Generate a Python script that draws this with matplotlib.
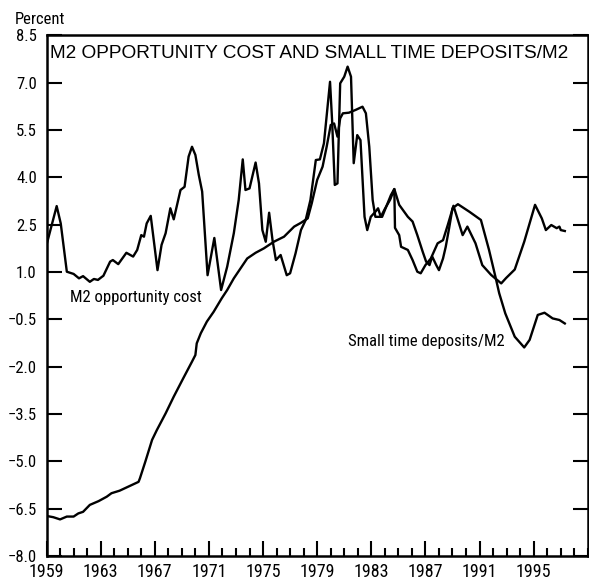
import matplotlib
matplotlib.use("Agg")
import matplotlib.pyplot as plt
from matplotlib import font_manager
from matplotlib.ticker import MultipleLocator, FixedLocator

# 細めのフォントがあればそれを使う
names = {f.name for f in font_manager.fontManager.ttflist}
FONT = "Roboto Condensed" if "Roboto Condensed" in names else "Liberation Sans"
TITLE_FONT = ["Liberation Sans", "DejaVu Sans"]
plt.rcParams["font.family"] = [FONT, "DejaVu Sans"]

# M2 opportunity cost
opp_years = [1959.0, 1959.75, 1960.05, 1960.5, 1961.0, 1961.4, 1961.7, 1962.2, 1962.5, 1962.8,
             1963.1, 1963.2, 1963.7, 1963.9, 1964.3, 1964.9, 1965.4, 1965.7, 1966.0, 1966.2,
             1966.4, 1966.7, 1967.2, 1967.5, 1967.8, 1968.15, 1968.4, 1968.9, 1969.2, 1969.5,
             1969.75, 1970.0, 1970.25, 1970.5, 1970.9, 1971.4, 1971.9, 1972.35, 1972.84, 1973.2,
             1973.5, 1973.7, 1974.0, 1974.45, 1974.7, 1974.95, 1975.2, 1975.45, 1975.7, 1975.95,
             1976.3, 1976.75, 1977.0, 1977.4, 1977.8, 1978.15, 1978.5, 1978.9, 1979.2, 1979.5,
             1979.95, 1980.1, 1980.3, 1980.5, 1980.7, 1981.0, 1981.25, 1981.5, 1981.7, 1981.96,
             1982.2, 1982.5, 1982.7, 1982.96, 1983.3, 1983.5, 1983.7, 1984.0, 1984.4, 1984.7,
             1984.75, 1985.06, 1985.2, 1985.7, 1986.05, 1986.4, 1986.65, 1987.0, 1987.4, 1987.9,
             1988.3, 1988.65, 1989.07, 1989.75, 1990.1, 1990.7, 1991.2, 1991.85, 1992.6, 1992.96,
             1993.6, 1994.3, 1995.1, 1995.6, 1995.9, 1996.3, 1996.7, 1996.9, 1997.0, 1997.3]
opp_values = [1.86, 3.09, 2.54, 1.01, 0.94, 0.80, 0.87, 0.69, 0.78, 0.75,
              0.85, 0.88, 1.33, 1.38, 1.25, 1.61, 1.49, 1.70, 2.17, 2.12,
              2.54, 2.78, 1.06, 1.86, 2.23, 3.02, 2.67, 3.60, 3.70, 4.66,
              4.97, 4.71, 4.08, 3.55, 0.90, 2.08, 0.43, 1.17, 2.23, 3.28,
              4.57, 3.60, 3.65, 4.47, 3.81, 2.33, 1.96, 2.88, 2.01, 1.38,
              1.54, 0.90, 0.96, 1.59, 2.33, 2.65, 3.28, 4.55, 4.57, 5.08,
              7.03, 5.82, 3.76, 3.81, 6.98, 7.19, 7.51, 7.19, 4.45, 5.34,
              5.18, 2.75, 2.33, 2.75, 2.91, 3.02, 2.75, 3.00, 3.30, 3.63,
              2.40, 2.17, 1.80, 1.70, 1.38, 1.01, 0.96, 1.22, 1.43, 1.91,
              2.01, 2.49, 3.10, 2.17, 2.44, 1.91, 1.22, 0.91, 0.64, 0.81,
              1.08, 1.96, 3.13, 2.70, 2.33, 2.49, 2.39, 2.44, 2.33, 2.30]

# Small time deposits/M2
std_years = [1959.0, 1959.5, 1960.0, 1960.5, 1961.0, 1961.35, 1961.7, 1962.2, 1962.85, 1963.45,
             1963.8, 1964.4, 1965.05, 1965.8, 1965.9, 1966.3, 1966.8, 1967.15, 1967.8, 1968.4,
             1969.1, 1969.75, 1970.0, 1970.1, 1970.4, 1970.85, 1971.35, 1971.95, 1972.35, 1972.84,
             1973.83, 1974.45, 1975.06, 1975.8, 1976.55, 1977.3, 1977.8, 1978.3, 1978.6, 1979.0,
             1979.4, 1979.7, 1980.0, 1980.25, 1980.5, 1980.7, 1980.9, 1981.35, 1981.85, 1982.35,
             1982.6, 1982.85, 1983.1, 1983.3, 1983.8, 1984.45, 1984.7, 1985.06, 1985.7, 1986.05,
             1986.4, 1986.8, 1987.05, 1987.3, 1987.5, 1987.8, 1988.0, 1988.3, 1988.5, 1988.75,
             1989.0, 1989.4, 1990.25, 1991.1, 1991.7, 1992.2, 1992.45, 1992.9, 1993.6, 1994.3,
             1994.7, 1995.3, 1995.8, 1996.4, 1996.9, 1997.3]
std_values = [-6.73, -6.77, -6.84, -6.75, -6.75, -6.65, -6.60, -6.38, -6.26, -6.12,
              -6.01, -5.93, -5.80, -5.65, -5.54, -5.01, -4.32, -4.01, -3.48, -2.95,
              -2.37, -1.84, -1.63, -1.26, -0.94, -0.57, -0.26, 0.17, 0.43, 0.80,
              1.43, 1.61, 1.75, 1.96, 2.12, 2.44, 2.56, 2.70, 3.18, 3.92,
              4.34, 4.97, 5.66, 5.71, 5.29, 5.87, 6.03, 6.05, 6.14, 6.24,
              6.03, 4.97, 3.28, 2.75, 2.75, 3.44, 3.63, 3.13, 2.75, 2.60,
              2.17, 1.64, 1.33, 1.22, 1.49, 1.22, 1.06, 1.43, 1.80, 2.39,
              3.02, 3.15, 2.91, 2.65, 1.70, 0.80, 0.33, -0.31, -1.05, -1.39,
              -1.15, -0.36, -0.29, -0.47, -0.52, -0.63]

y_ticks = [8.5, 7.0, 5.5, 4.0, 2.5, 1.0, -0.5, -2.0, -3.5, -5.0, -6.5, -8.0]
x_labels = [1959, 1963, 1967, 1971, 1975, 1979, 1983, 1987, 1991, 1995]

fig = plt.figure(figsize=(5.89, 5.83), dpi=100)
ax = fig.add_axes([0.079, 0.0463, 0.919, 0.893])

ax.plot(opp_years, opp_values, color="black", lw=1.7, solid_joinstyle="round")
ax.plot(std_years, std_values, color="black", lw=1.7, solid_joinstyle="round")

ax.set_xlim(1959, 1999)
ax.set_ylim(-8.0, 8.5)

ax.set_yticks(y_ticks)
ax.set_yticklabels([f"{v:.1f}".replace("-", "\u2212") for v in y_ticks])
ax.xaxis.set_major_locator(FixedLocator(x_labels))
ax.set_xticklabels([str(y) for y in x_labels])
ax.xaxis.set_minor_locator(MultipleLocator(1))

ax.tick_params(axis="y", which="major", direction="in", length=11, width=1.5,
               left=True, right=True, labelsize=12, pad=7)
ax.tick_params(axis="x", which="major", direction="in", length=11, width=1.5,
               bottom=True, top=False, labelsize=13, pad=5)
ax.tick_params(axis="x", which="minor", direction="in", length=5.5, width=1.5,
               bottom=True, top=False)

for s in ax.spines.values():
    s.set_linewidth(1.8)

ax.text(0.007, 0.982, "M2 OPPORTUNITY COST AND SMALL TIME DEPOSITS/M2",
        transform=ax.transAxes, ha="left", va="top", fontsize=13.7, family=TITLE_FONT)
fig.text(0.025, 0.967, "Percent", ha="left", va="center", fontsize=12)

ax.text(1960.7, 0.2, "M2 opportunity cost", ha="left", va="center", fontsize=12)
ax.text(1981.3, -1.2, "Small time deposits/M2", ha="left", va="center", fontsize=12)

fig.savefig("out.png", dpi=100)
